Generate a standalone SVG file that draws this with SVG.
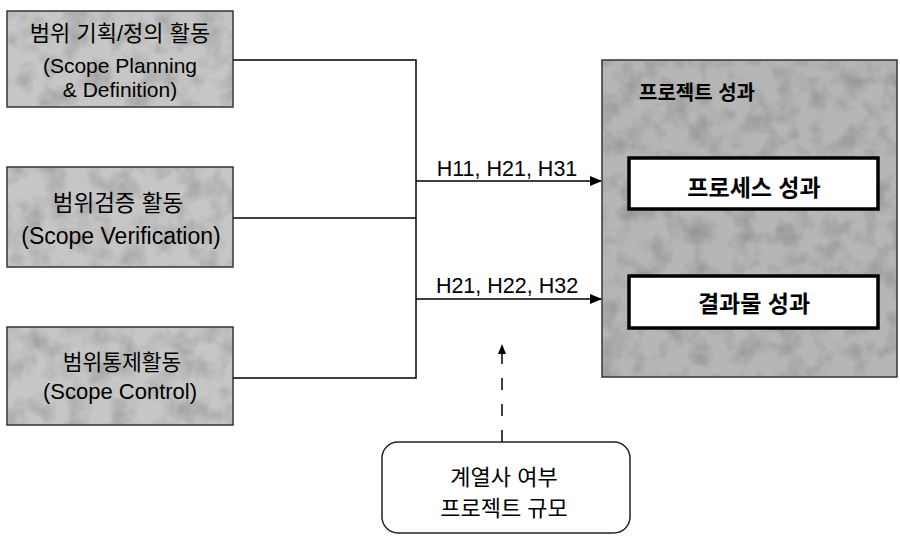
<svg xmlns="http://www.w3.org/2000/svg" width="900" height="536" viewBox="0 0 900 536">
<style>
.t{font-family:"Liberation Sans","Noto Sans CJK KR",sans-serif;fill:#000;text-anchor:middle;dominant-baseline:central}
.lbox{fill:#c6c6c6;stroke:#333;stroke-width:1.5}
.rbox{fill:#b6b6b6;stroke:#333;stroke-width:1.5}
.ibox{fill:#fff;stroke:#000;stroke-width:3.5}
.ln{fill:none;stroke:#000;stroke-width:1.5}
.b{font-weight:700}
.tex{fill:#000;opacity:0.16}
</style>
<defs>
<marker id="ah" markerWidth="12" markerHeight="10" refX="11" refY="5" orient="auto" markerUnits="userSpaceOnUse">
<path d="M0,0 L12,5 L0,10 Z" fill="#000"/>
</marker>
<marker id="ah2" markerWidth="10" markerHeight="10" refX="9" refY="5" orient="auto" markerUnits="userSpaceOnUse">
<path d="M0,1 L10,5 L0,9 Z" fill="#000"/>
</marker>
<filter id="noise" x="0" y="0" width="100%" height="100%">
<feTurbulence type="fractalNoise" baseFrequency="0.045" numOctaves="3" seed="4" result="n"/>
<feColorMatrix in="n" type="matrix" values="0 0 0 0 0  0 0 0 0 0  0 0 0 0 0  2.2 0 0 0 -0.9" result="m"/>
<feComposite in="m" in2="SourceGraphic" operator="in"/>
</filter>
</defs>
<g id="connectors">
<path class="ln" d="M233,60 H416 V378 H233"/>
<path class="ln" d="M233,218 H416"/>
<path class="ln" d="M416,181 H601" marker-end="url(#ah)"/>
<path class="ln" d="M416,299 H601" marker-end="url(#ah)"/>
<path d="M502,442 V345" fill="none" stroke="#000" stroke-width="1.5" stroke-dasharray="12,14" marker-end="url(#ah2)"/>
<text class="t" x="507" y="169" font-size="21.5">H11, H21, H31</text>
<text class="t" x="507" y="286" font-size="21.5">H21, H22, H32</text>
</g>
<g id="node-planning">
<rect class="lbox" x="7" y="11" width="226" height="96"/>
<rect class="tex" x="8" y="12" width="224" height="94" filter="url(#noise)"/>
<text class="t" x="120" y="33" font-size="22">범위 기획/정의 활동</text>
<text class="t" x="120" y="65" font-size="21">(Scope Planning</text>
<text class="t" x="120" y="89" font-size="21">&amp; Definition)</text>
</g>
<g id="node-verification">
<rect class="lbox" x="7" y="167" width="226" height="100"/>
<rect class="tex" x="8" y="168" width="224" height="98" filter="url(#noise)"/>
<text class="t" x="118" y="203" font-size="22.5">범위검증 활동</text>
<text class="t" x="121" y="236" font-size="23">(Scope Verification)</text>
</g>
<g id="node-control">
<rect class="lbox" x="7" y="327" width="226" height="98"/>
<rect class="tex" x="8" y="328" width="224" height="96" filter="url(#noise)"/>
<text class="t" x="122" y="363" font-size="21.5">범위통제활동</text>
<text class="t" x="120" y="391" font-size="22">(Scope Control)</text>
</g>
<g id="node-outcome">
<rect class="rbox" x="602" y="60" width="295" height="317"/>
<rect class="tex" x="603" y="61" width="293" height="315" filter="url(#noise)"/>
<text class="t b" x="697" y="93" font-size="20">프로젝트 성과</text>
</g>
<g id="node-process">
<rect class="ibox" x="629" y="158" width="249" height="51"/>
<text class="t b" x="754" y="188" font-size="23">프로세스 성과</text>
</g>
<g id="node-product">
<rect class="ibox" x="629" y="276" width="249" height="52"/>
<text class="t b" x="754" y="304" font-size="23">결과물 성과</text>
</g>
<g id="node-moderator">
<rect x="382" y="442" width="248" height="91" rx="16" ry="16" fill="#fff" stroke="#222" stroke-width="1.5"/>
<text class="t" x="504" y="477" font-size="22">계열사 여부</text>
<text class="t" x="504" y="508" font-size="22">프로젝트 규모</text>
</g>
</svg>
